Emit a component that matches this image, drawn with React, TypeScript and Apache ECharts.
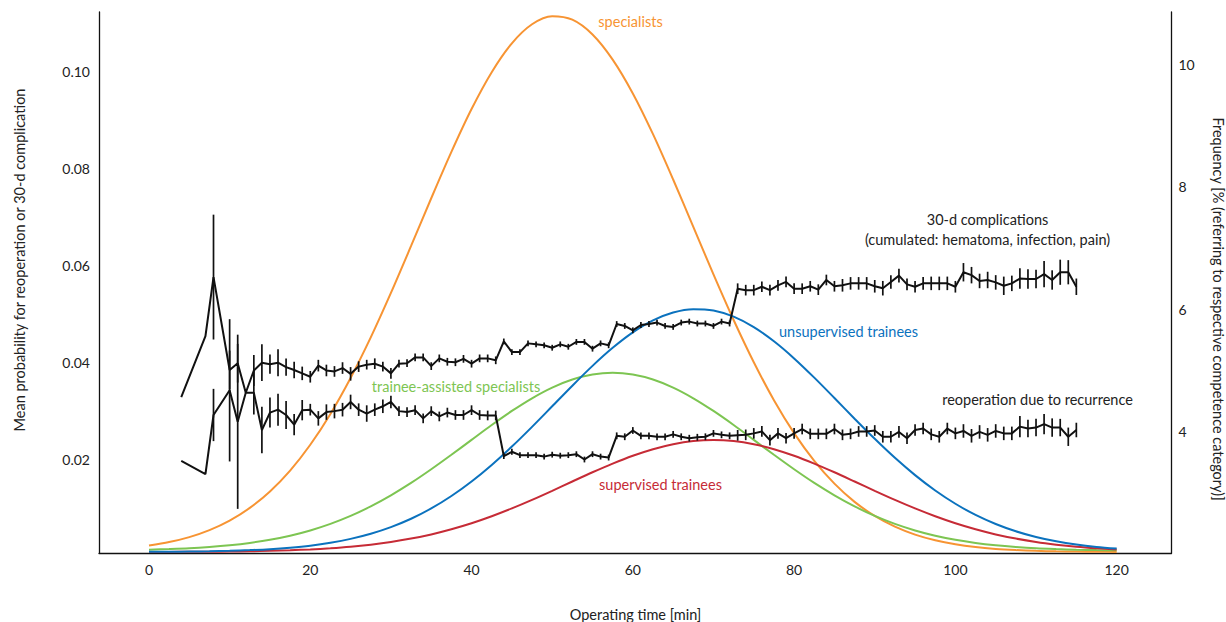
import React, { useEffect, useRef } from 'react';
import * as echarts from 'echarts';

// ---- data: black series (per minute of operating time) ----
const minutes = [4, 7, 8, 10, 11, 12, 13, 14, 15, 16, 17, 18, 19, 20, 21, 22, 23, 24, 25, 26, 27, 28, 29, 30,
  31, 32, 33, 34, 35, 36, 37, 38, 39, 40, 41, 42, 43, 44, 45, 46, 47, 48, 49, 50, 51, 52, 53, 54, 55, 56, 57,
  58, 59, 60, 61, 62, 63, 64, 65, 66, 67, 68, 69, 70, 71, 72, 73, 74, 75, 76, 77, 78, 79, 80, 81, 82, 83, 84,
  85, 86, 87, 88, 89, 90, 91, 92, 93, 94, 95, 96, 97, 98, 99, 100, 101, 102, 103, 104, 105, 106, 107, 108, 109,
  110, 111, 112, 113, 114, 115];

const complications = [0.0328, 0.0454, 0.0576, 0.0384, 0.0398, 0.0337, 0.0383, 0.0399, 0.0396, 0.0399, 0.0390,
  0.0384, 0.0377, 0.0370, 0.0393, 0.0383, 0.0381, 0.0388, 0.0376, 0.0391, 0.0395, 0.0397, 0.0391, 0.0377,
  0.0397, 0.0398, 0.0410, 0.0410, 0.0392, 0.0408, 0.0401, 0.0400, 0.0407, 0.0397, 0.0408, 0.0408, 0.0404,
  0.0443, 0.0421, 0.0421, 0.0439, 0.0437, 0.0435, 0.0430, 0.0437, 0.0432, 0.0442, 0.0442, 0.0428, 0.0439, 0.0435,
  0.0479, 0.0475, 0.0466, 0.0477, 0.0479, 0.0482, 0.0475, 0.0473, 0.0482, 0.0484, 0.0480, 0.0480, 0.0475, 0.0484,
  0.0480, 0.0552, 0.0549, 0.0549, 0.0556, 0.0549, 0.0559, 0.0566, 0.0552, 0.0552, 0.0557, 0.0550, 0.0570, 0.0557,
  0.0559, 0.0563, 0.0563, 0.0563, 0.0557, 0.0553, 0.0566, 0.0579, 0.0561, 0.0556, 0.0563, 0.0563, 0.0563, 0.0563,
  0.0556, 0.0586, 0.0580, 0.0568, 0.0570, 0.0565, 0.0558, 0.0563, 0.0573, 0.0572, 0.0572, 0.0582, 0.0570, 0.0586,
  0.0586, 0.0556];

const complicationsErr = [0, 0, 0.0129, 0.004, 0.004, 0, 0.0032, 0.0038, 0.002, 0.0028, 0.0018, 0.0017, 0.0014,
  0.0012, 0.0012, 0.0012, 0.0011, 0.0012, 0.0014, 0.0011, 0.001, 0.0011, 0.001, 0.0011,
  0.0008, 0.0008, 0.0008, 0.0008, 0.0008, 0.0008, 0.0008, 0.0008, 0.0008, 0.0008, 0.0008, 0.0008, 0.0008,
  0.0006, 0.0006, 0.0006, 0.0006, 0.0006, 0.0006, 0.0006, 0.0006, 0.0006, 0.0006, 0.0006, 0.0006, 0.0006, 0.0006,
  0.0006, 0.0006, 0.0006, 0.0006, 0.0006, 0.0006, 0.0006, 0.0006, 0.0006, 0.0006, 0.0006, 0.0006, 0.0006, 0.0006,
  0.0006, 0.0011, 0.0011, 0.0011, 0.0011, 0.0011, 0.0011, 0.0011, 0.0011, 0.0011, 0.0011, 0.0011, 0.0011, 0.0011,
  0.0013, 0.0013, 0.0013, 0.0013, 0.0013, 0.0015, 0.0014, 0.0014, 0.0012, 0.0012, 0.0013, 0.0014, 0.0014, 0.0014,
  0.0012, 0.0019, 0.0017, 0.0015, 0.0017, 0.0015, 0.0019, 0.0016, 0.0021, 0.002, 0.0019, 0.0027, 0.002, 0.0026,
  0.0025, 0.0017];

const reoperation = [0.0196, 0.0169, 0.0291, 0.0342, 0.0277, 0.0337, 0.0337, 0.0260, 0.0296, 0.0302, 0.0291,
  0.0271, 0.0301, 0.0302, 0.0284, 0.0297, 0.0299, 0.0302, 0.0318, 0.0302, 0.0294, 0.0302, 0.0309, 0.0318,
  0.0299, 0.0297, 0.0301, 0.0284, 0.0299, 0.0288, 0.0296, 0.0291, 0.0291, 0.0301, 0.0291, 0.0290, 0.0290,
  0.0206, 0.0215, 0.0208, 0.0208, 0.0208, 0.0205, 0.0209, 0.0207, 0.0208, 0.0210, 0.0199, 0.0210, 0.0205, 0.0203,
  0.0248, 0.0246, 0.0259, 0.0248, 0.0248, 0.0246, 0.0246, 0.0251, 0.0246, 0.0243, 0.0245, 0.0246, 0.0253, 0.0250,
  0.0248, 0.0249, 0.0250, 0.0253, 0.0257, 0.0239, 0.0253, 0.0243, 0.0253, 0.0262, 0.0252, 0.0252, 0.0252, 0.0262,
  0.0250, 0.0252, 0.0257, 0.0257, 0.0259, 0.0246, 0.0246, 0.0256, 0.0243, 0.0260, 0.0263, 0.0251, 0.0246, 0.0263,
  0.0253, 0.0258, 0.0248, 0.0256, 0.0250, 0.0258, 0.0253, 0.0253, 0.0267, 0.0263, 0.0265, 0.0272, 0.0265, 0.0265,
  0.0246, 0.0260];

const reoperationErr = [0, 0, 0.0054, 0.0147, 0.018, 0, 0.0045, 0.0048, 0.0031, 0.0033, 0.0029, 0.0022, 0.0021,
  0.0012, 0.0015, 0.0016, 0.0015, 0.0014, 0.0015, 0.0013, 0.0017, 0.0013, 0.0014, 0.0013,
  0.001, 0.001, 0.001, 0.001, 0.001, 0.001, 0.001, 0.001, 0.001, 0.001, 0.001, 0.001, 0.001,
  0.0006, 0.0006, 0.0006, 0.0006, 0.0006, 0.0006, 0.0006, 0.0006, 0.0006, 0.0006, 0.0006, 0.0006, 0.0006, 0.0006,
  0.0007, 0.0007, 0.0007, 0.0007, 0.0007, 0.0007, 0.0007, 0.0007, 0.0007, 0.0007, 0.0007, 0.0007, 0.0007, 0.0007,
  0.0007, 0.0011, 0.0011, 0.0011, 0.0011, 0.0011, 0.0011, 0.0011, 0.0011, 0.0011, 0.0011, 0.0011, 0.0011, 0.0011,
  0.0011, 0.0011, 0.0011, 0.0011, 0.0011, 0.0012, 0.0012, 0.0012, 0.0012, 0.0012, 0.0012, 0.0012, 0.0012, 0.0012,
  0.0012, 0.0014, 0.0014, 0.0014, 0.0014, 0.0014, 0.0014, 0.0014, 0.0022, 0.0018, 0.0018, 0.0021, 0.0019, 0.0018,
  0.0019, 0.0015];

// ---- data: frequency distributions (right axis, %), read every 2.5 min ----
const curveX = [0, 2.5, 5, 7.5, 10, 12.5, 15, 17.5, 20, 22.5, 25, 27.5, 30, 32.5, 35, 37.5, 40, 42.5, 45, 47.5,
  50, 52.5, 55, 57.5, 60, 62.5, 65, 67.5, 70, 72.5, 75, 77.5, 80, 82.5, 85, 87.5, 90, 92.5, 95, 97.5, 100, 102.5,
  105, 107.5, 110, 112.5, 115, 117.5, 120];
const specialists = [2.149, 2.205, 2.286, 2.4, 2.555, 2.762, 3.031, 3.371, 3.792, 4.295, 4.881, 5.542, 6.267,
  7.033, 7.811, 8.567, 9.266, 9.867, 10.337, 10.648, 10.779, 10.723, 10.482, 10.072, 9.52, 8.856, 8.117, 7.344,
  6.57, 5.826, 5.137, 4.519, 3.982, 3.53, 3.158, 2.861, 2.631, 2.456, 2.327, 2.234, 2.169, 2.124, 2.094, 2.075,
  2.062, 2.054, 2.05, 2.047, 2.045];
const unsupervisedTrainees = [2.046, 2.048, 2.051, 2.055, 2.063, 2.074, 2.09, 2.114, 2.147, 2.194, 2.257, 2.341,
  2.449, 2.585, 2.753, 2.956, 3.193, 3.463, 3.762, 4.084, 4.419, 4.755, 5.078, 5.372, 5.624, 5.82, 5.949, 6.003,
  5.98, 5.88, 5.71, 5.479, 5.2, 4.886, 4.554, 4.217, 3.889, 3.579, 3.297, 3.046, 2.83, 2.648, 2.5, 2.381, 2.288,
  2.217, 2.164, 2.126, 2.099];
const traineeAssisted = [2.081, 2.091, 2.104, 2.125, 2.153, 2.191, 2.242, 2.309, 2.395, 2.502, 2.632, 2.787,
  2.967, 3.169, 3.392, 3.628, 3.872, 4.114, 4.343, 4.55, 4.724, 4.855, 4.937, 4.965, 4.937, 4.855, 4.724, 4.55,
  4.343, 4.114, 3.872, 3.628, 3.392, 3.169, 2.967, 2.787, 2.632, 2.502, 2.395, 2.309, 2.242, 2.191, 2.153, 2.125,
  2.104, 2.091, 2.081, 2.074, 2.07];
const supervisedTrainees = [2.044, 2.045, 2.046, 2.048, 2.051, 2.055, 2.062, 2.072, 2.085, 2.104, 2.129, 2.163,
  2.206, 2.262, 2.33, 2.414, 2.512, 2.626, 2.754, 2.893, 3.041, 3.193, 3.343, 3.485, 3.613, 3.72, 3.801, 3.852,
  3.869, 3.852, 3.801, 3.72, 3.613, 3.485, 3.343, 3.193, 3.041, 2.893, 2.754, 2.626, 2.512, 2.414, 2.33, 2.262,
  2.206, 2.163, 2.129, 2.104, 2.085];

// ---- tick labels ----
const xTicks = [0, 20, 40, 60, 80, 100, 120];
const leftTicks = [0.02, 0.04, 0.06, 0.08, 0.1];
const rightTicks = [4, 6, 8, 10];

const FONT = 'Lato, "Open Sans", sans-serif';
const ORANGE = '#F79433';
const BLUE = '#0B72BE';
const GREEN = '#7DC552';
const RED = '#C62B36';
const INK = '#111111';

const pick = (ticks: number[], v: number, fmt: (t: number) => string) => {
  const t = ticks.find((k) => Math.abs(k - v) < 1e-6);
  return t === undefined ? '' : fmt(t);
};

const errRender = (params: any, api: any) => {
  const x = api.value(0);
  const y = api.value(1);
  const e = api.value(2);
  if (!e) return { type: 'group', children: [] };
  const p1 = api.coord([x, y + e]);
  const p2 = api.coord([x, y - e]);
  return {
    type: 'line',
    shape: { x1: p1[0], y1: p1[1], x2: p2[0], y2: p2[1] },
    style: { stroke: INK, lineWidth: 1.7 },
  };
};

const label = (text: string, x: number, y: number, color: string, rotation = 0) => ({
  type: 'text',
  x,
  y,
  rotation,
  silent: true,
  style: {
    text,
    fill: color,
    fontSize: 14.5,
    fontFamily: FONT,
    align: 'center',
    verticalAlign: 'middle',
    textAlign: 'center',
    textVerticalAlign: 'middle',
  },
});

export default function App() {
  const ref = useRef<HTMLDivElement>(null);

  useEffect(() => {
    if (!ref.current) return;
    const chart = echarts.init(ref.current, null, { renderer: 'svg' });

    const axisLabelBase = { fontSize: 14, fontFamily: FONT, color: '#222' };
    const lineAxis = { show: true, onZero: false, lineStyle: { color: INK, width: 1.3 } };

    const curve = (name: string, vals: number[], color: string) => ({
      name,
      type: 'line',
      xAxisIndex: 0,
      yAxisIndex: 1,
      data: curveX.map((x, i) => [x, vals[i]]),
      symbol: 'none',
      smooth: 0.3,
      lineStyle: { color, width: 2 },
      z: 2,
      silent: true,
    });

    const option: any = {
      animation: false,
      backgroundColor: '#ffffff',
      grid: { left: 99, right: 54.5, top: 12, bottom: 69, containLabel: false, outerBoundsMode: 'none' },
      xAxis: {
        type: 'value',
        min: -6.2,
        max: 126.8,
        splitNumber: 6,
        minInterval: 20,
        maxInterval: 20,
        axisLine: lineAxis,
        axisTick: { show: false },
        splitLine: { show: false },
        axisLabel: {
          ...axisLabelBase,
          margin: 9,
          showMinLabel: false,
          showMaxLabel: false,
          formatter: (v: number) => pick(xTicks, v, (t) => String(t)),
        },
      },
      yAxis: [
        {
          type: 'value',
          position: 'left',
          min: 0.00058,
          max: 0.11238,
          splitNumber: 5,
          minInterval: 0.02,
          maxInterval: 0.02,
          axisLine: lineAxis,
          axisTick: { show: false },
          splitLine: { show: false },
          axisLabel: {
            ...axisLabelBase,
            margin: 9,
            showMinLabel: false,
            showMaxLabel: false,
            formatter: (v: number) => pick(leftTicks, v, (t) => t.toFixed(2)),
          },
        },
        {
          type: 'value',
          position: 'right',
          min: 2.027,
          max: 10.848,
          splitNumber: 4,
          minInterval: 2,
          maxInterval: 2,
          axisLine: lineAxis,
          axisTick: { show: false },
          splitLine: { show: false },
          axisLabel: {
            ...axisLabelBase,
            margin: 7,
            showMinLabel: false,
            showMaxLabel: false,
            formatter: (v: number) => pick(rightTicks, v, (t) => String(t)),
          },
        },
      ],
      graphic: [
        label('Mean probability for reoperation or 30-d complication', 19, 260, '#222', Math.PI / 2),
        label('Frequency [% (referring to respective competence category)]', 1218, 309, '#222', -Math.PI / 2),
        label('Operating time [min]', 635.5, 614, '#222'),
        label('specialists', 630.5, 21, ORANGE),
        label('30-d complications', 987.5, 219, '#222'),
        label('(cumulated: hematoma, infection, pain)', 987.5, 239, '#222'),
        label('unsupervised trainees', 848.5, 331, BLUE),
        label('trainee-assisted specialists', 456, 386, GREEN),
        label('reoperation due to recurrence', 1037.5, 399, '#222'),
        label('supervised trainees', 660.5, 484, RED),
      ],
      series: [
        curve('specialists', specialists, ORANGE),
        curve('trainee-assisted specialists', traineeAssisted, GREEN),
        curve('supervised trainees', supervisedTrainees, RED),
        curve('unsupervised trainees', unsupervisedTrainees, BLUE),
        {
          name: '30-d complications',
          type: 'line',
          xAxisIndex: 0,
          yAxisIndex: 0,
          data: minutes.map((m, i) => [m, complications[i]]),
          symbol: 'none',
          lineStyle: { color: INK, width: 2 },
          z: 3,
          silent: true,
        },
        {
          name: 'reoperation due to recurrence',
          type: 'line',
          xAxisIndex: 0,
          yAxisIndex: 0,
          data: minutes.map((m, i) => [m, reoperation[i]]),
          symbol: 'none',
          lineStyle: { color: INK, width: 2 },
          z: 3,
          silent: true,
        },
        {
          name: '30-d complications CI',
          type: 'custom',
          xAxisIndex: 0,
          yAxisIndex: 0,
          renderItem: errRender,
          encode: { x: 0, y: 1 },
          data: minutes.map((m, i) => [m, complications[i], complicationsErr[i]]),
          z: 4,
          silent: true,
        },
        {
          name: 'reoperation CI',
          type: 'custom',
          xAxisIndex: 0,
          yAxisIndex: 0,
          renderItem: errRender,
          encode: { x: 0, y: 1 },
          data: minutes.map((m, i) => [m, reoperation[i], reoperationErr[i]]),
          z: 4,
          silent: true,
        },
      ],
    };

    chart.setOption(option);
    return () => chart.dispose();
  }, []);

  return (
    <div
      ref={ref}
      style={{ position: 'fixed', left: 0, top: 0, width: 1226, height: 622, background: '#fff' }}
    />
  );
}
